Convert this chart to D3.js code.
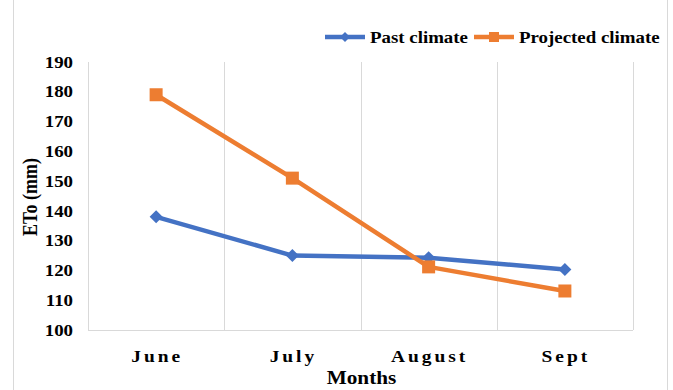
<!DOCTYPE html>
<html><head><meta charset="utf-8">
<script src="https://cdn.jsdelivr.net/npm/d3@7"></script>
<style>body{margin:0;background:#fff;}svg{display:block;}</style>
</head><body>
<script>
const months = ["June","July","August","Sept"];
const pastClimate = [138, 125, 124.3, 120.3];
const projectedClimate = [179, 151, 121.2, 113.1];
const yTicks = [100,110,120,130,140,150,160,170,180,190];

const W = 673, H = 390;
const SX = 1.18; // horizontal stretch of the original text
const m = {left:88, right:40, top:62, bottom:60};
const svg = d3.select("body").append("svg").attr("width",W).attr("height",H);
const serif = "'Liberation Serif','Times New Roman',serif";

// outer frame lines
svg.append("line").attr("x1",13.5).attr("x2",13.5).attr("y1",0).attr("y2",H).attr("stroke","#d9d9d9");
svg.append("line").attr("x1",667.5).attr("x2",667.5).attr("y1",0).attr("y2",H).attr("stroke","#d9d9d9");

const x = d3.scaleBand().domain(months).range([m.left, W-m.right]);
const y = d3.scaleLinear().domain([100,190]).range([H-m.bottom, m.top]);

// vertical gridlines at band boundaries
const bounds = months.map(d=>x(d)).concat([x.range()[1]]);
svg.append("g").selectAll("line").data(bounds).join("line")
  .attr("x1",d=>Math.round(d)+0.5).attr("x2",d=>Math.round(d)+0.5)
  .attr("y1",y(190)).attr("y2",y(100)).attr("stroke","#d9d9d9").attr("stroke-width",1);
svg.append("line").attr("x1",m.left).attr("x2",W-m.right)
  .attr("y1",Math.round(y(100))+0.5).attr("y2",Math.round(y(100))+0.5).attr("stroke","#d9d9d9");

// y axis
const ya = svg.append("g").attr("transform",`translate(${m.left},0)`)
  .call(d3.axisLeft(y).tickValues(yTicks).tickSize(0));
ya.select(".domain").remove();
ya.selectAll("text").attr("x",0).attr("transform",`translate(-15,0) scale(${SX},1)`)
  .attr("font-family",serif).attr("font-weight","bold").attr("font-size","16px").attr("fill","#000");

// x axis
const xa = svg.append("g").attr("transform",`translate(0,${y(100)})`)
  .call(d3.axisBottom(x).tickSize(0));
xa.select(".domain").remove();
xa.selectAll("text").attr("y",0).attr("dy",null).attr("transform",`translate(1,32) scale(${SX},1)`)
  .attr("font-family",serif).attr("font-weight","bold").attr("font-size","16.5px")
  .attr("letter-spacing","2.5px").attr("fill","#000");

// axis titles
svg.append("text").attr("transform",`translate(${(m.left+W-m.right)/2 + 1},384) scale(${SX},1)`).attr("text-anchor","middle")
  .attr("font-family",serif).attr("font-weight","bold").attr("font-size","18px").text("Months");
svg.append("text").attr("transform",`translate(37,197) rotate(-90) scale(1,${SX})`).attr("text-anchor","middle")
  .attr("font-family",serif).attr("font-weight","bold").attr("font-size","18px").text("ETo (mm)");

const cx = d => x(d) + x.bandwidth()/2;
const line = d3.line().x((d,i)=>cx(months[i])).y(d=>y(d));
const series = [
  {name:"Past climate", data:pastClimate, color:"#4472C4", marker:"diamond"},
  {name:"Projected climate", data:projectedClimate, color:"#ED7D31", marker:"square"}
];
function marker(g, type, color){
  if(type==="diamond") g.append("path").attr("d","M0,-6.5L6.5,0L0,6.5L-6.5,0Z").attr("fill",color);
  else g.append("rect").attr("x",-6.5).attr("y",-6.5).attr("width",13).attr("height",13).attr("fill",color);
}
series.forEach(s=>{
  svg.append("path").datum(s.data).attr("d",line).attr("fill","none")
    .attr("stroke",s.color).attr("stroke-width",4.5).attr("stroke-linejoin","round");
  s.data.forEach((v,i)=>{
    const g = svg.append("g").attr("transform",`translate(${cx(months[i])},${y(v)})`);
    marker(g,s.marker,s.color);
  });
});

// legend
const leg = [{x:325, s:series[0]},{x:474, s:series[1]}];
leg.forEach(l=>{
  const g = svg.append("g").attr("transform",`translate(${l.x},37)`);
  g.append("line").attr("x1",0).attr("x2",40).attr("stroke",l.s.color).attr("stroke-width",4.5);
  const mg = g.append("g").attr("transform","translate(20,0)");
  if(l.s.marker==="diamond") mg.append("path").attr("d","M0,-5L5,0L0,5L-5,0Z").attr("fill",l.s.color);
  else mg.append("rect").attr("x",-5).attr("y",-5).attr("width",10).attr("height",10).attr("fill",l.s.color);
  g.append("text").attr("transform",`translate(45,6) scale(${SX},1)`).attr("font-family",serif).attr("font-weight","bold")
    .attr("font-size","16px").text(l.s.name);
});
</script>
</body></html>
